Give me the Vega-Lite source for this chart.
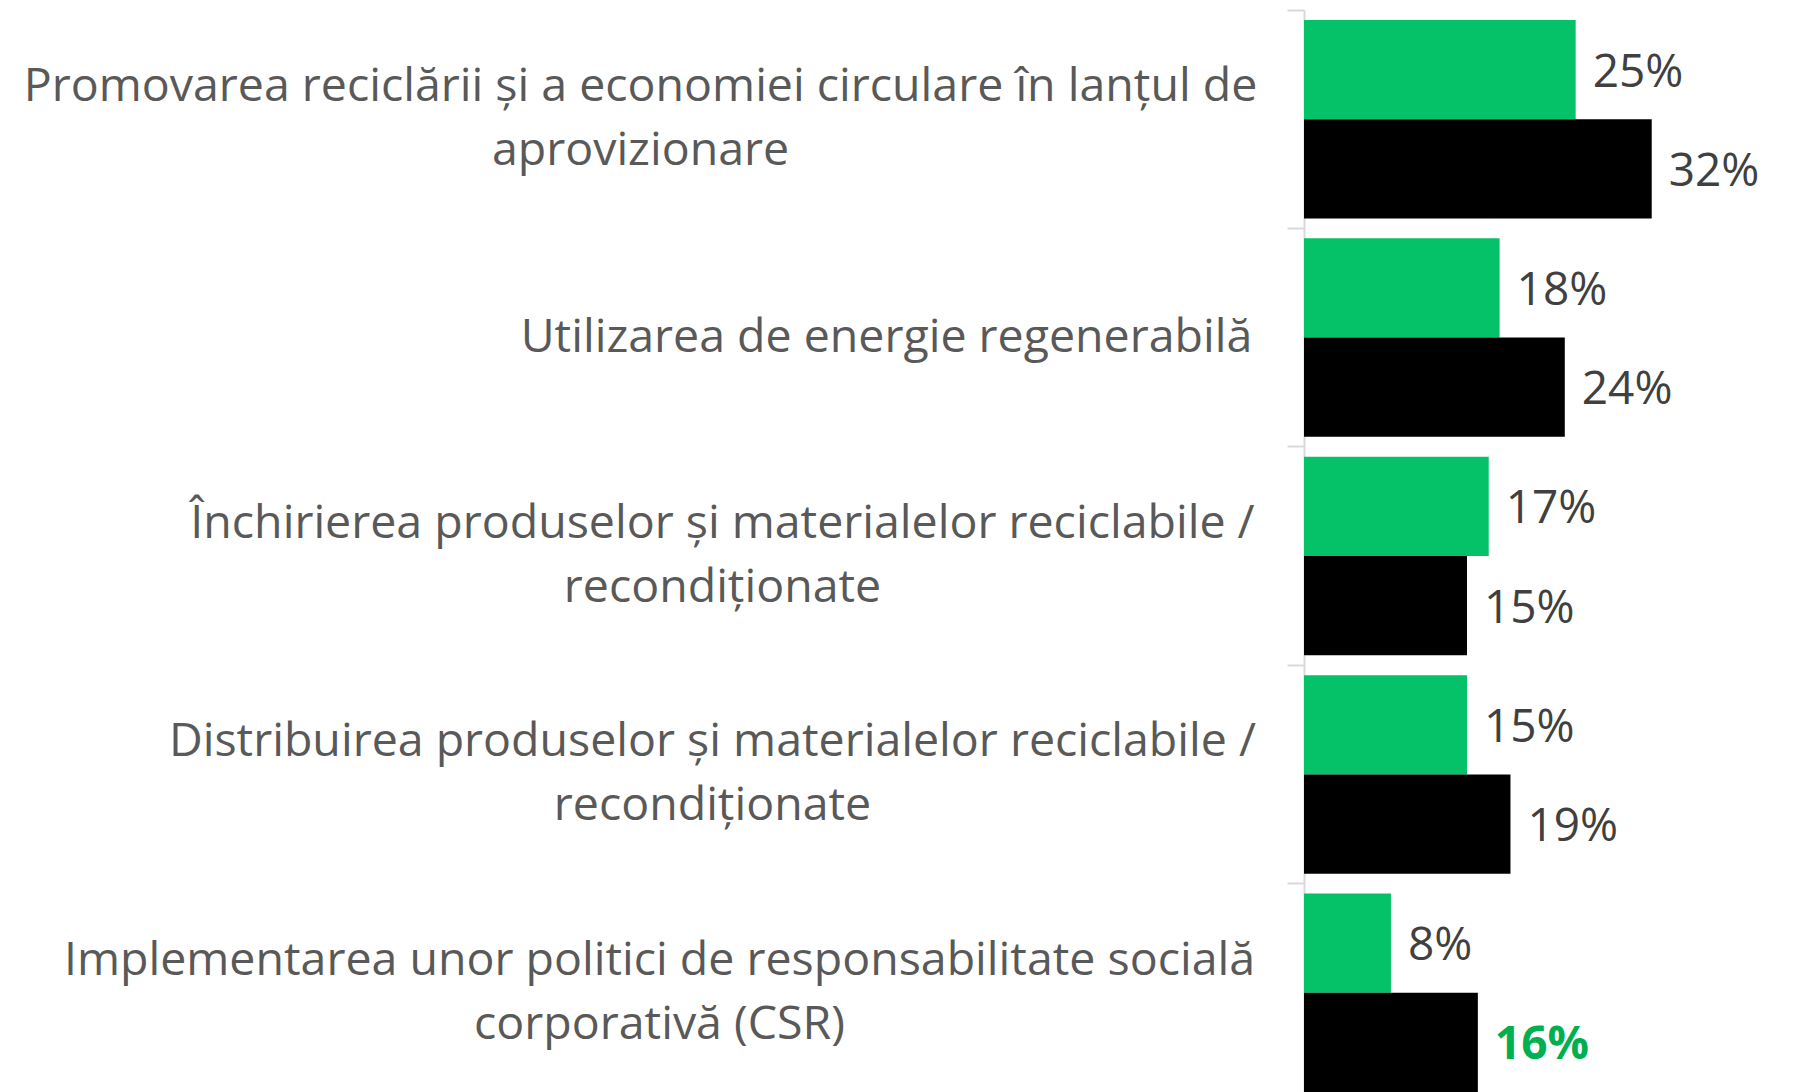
{
  "$schema": "https://vega.github.io/schema/vega-lite/v6.json",
  "autosize": {"type": "none"},
  "padding": {"left": 1304, "top": 10, "right": 0, "bottom": 0},
  "width": 489,
  "height": 1092,
  "background": "white",
  "config": {"view": {"stroke": null}},
  "data": {"values": [
    {"cat": "Promovarea reciclării și a economiei circulare în lanțul de\naprovizionare", "series": "Seria 1", "value": 25, "label": "25%"},
    {"cat": "Promovarea reciclării și a economiei circulare în lanțul de\naprovizionare", "series": "Seria 2", "value": 32, "label": "32%"},
    {"cat": "Utilizarea de energie regenerabilă", "series": "Seria 1", "value": 18, "label": "18%"},
    {"cat": "Utilizarea de energie regenerabilă", "series": "Seria 2", "value": 24, "label": "24%"},
    {"cat": "Închirierea produselor și materialelor reciclabile /\nrecondiționate", "series": "Seria 1", "value": 17, "label": "17%"},
    {"cat": "Închirierea produselor și materialelor reciclabile /\nrecondiționate", "series": "Seria 2", "value": 15, "label": "15%"},
    {"cat": "Distribuirea produselor și materialelor reciclabile /\nrecondiționate", "series": "Seria 1", "value": 15, "label": "15%"},
    {"cat": "Distribuirea produselor și materialelor reciclabile /\nrecondiționate", "series": "Seria 2", "value": 19, "label": "19%"},
    {"cat": "Implementarea unor politici de responsabilitate socială\ncorporativă (CSR)", "series": "Seria 1", "value": 8, "label": "8%"},
    {"cat": "Implementarea unor politici de responsabilitate socială\ncorporativă (CSR)", "series": "Seria 2", "value": 16, "label": "16%"}
  ]},
  "layer": [
    {
      "mark": {"type": "bar"},
      "encoding": {
        "y": {
          "field": "cat", "type": "nominal", "sort": null,
          "scale": {"paddingInner": 0, "paddingOuter": 0},
          "axis": {
            "title": null, "domain": false, "ticks": false, "orient": "left",
            "labelAlign": "center", "labelBaseline": "middle",
            "labelFont": "Open Sans", "labelFontSize": 46.5, "labelColor": "#595959",
            "labelLineHeight": 64, "labelLimit": 0,
            "labelExpr": "split(datum.value, '\\n')",
            "labelOffset": {"condition": {"test": "test(/\\n/, datum.value)", "value": -32}, "value": 0},
            "labelPadding": {
              "condition": [
                {"test": "test(/^Promovarea/, datum.value)", "value": 664},
                {"test": "test(/^Închirierea/, datum.value)", "value": 582},
                {"test": "test(/^Distribuirea/, datum.value)", "value": 592},
                {"test": "test(/^Implementarea/, datum.value)", "value": 645}
              ],
              "value": 418
            }
          }
        },
        "yOffset": {"field": "series", "type": "nominal", "sort": ["Seria 1", "Seria 2"], "scale": {"paddingInner": 0, "paddingOuter": 0.1}},
        "x": {"field": "value", "type": "quantitative", "scale": {"domain": [0, 45]}, "axis": null},
        "color": {"field": "series", "type": "nominal", "sort": ["Seria 1", "Seria 2"], "scale": {"range": ["#05C168", "#000000"]}, "legend": null}
      }
    },
    {
      "transform": [{"filter": "!(datum.series === 'Seria 2' && datum.value === 16)"}],
      "mark": {"type": "text", "align": "left", "baseline": "middle", "dx": 17, "dy": 3, "font": "Open Sans", "fontSize": 46, "color": "#404040"},
      "encoding": {
        "y": {
          "field": "cat", "type": "nominal", "sort": null,
          "scale": {"paddingInner": 0, "paddingOuter": 0},
          "axis": {
            "title": null, "orient": "left", "labels": false, "ticks": true, "tickSize": 17, "tickColor": "#D9D9D9", "tickWidth": 2,
            "domain": true, "domainColor": "#D9D9D9", "domainWidth": 2, "bandPosition": 0
          }
        },
        "yOffset": {"field": "series", "type": "nominal", "sort": ["Seria 1", "Seria 2"], "scale": {"paddingInner": 0, "paddingOuter": 0.1}},
        "x": {"field": "value", "type": "quantitative"},
        "text": {"field": "label"}
      }
    },
    {
      "transform": [{"filter": "datum.series === 'Seria 2' && datum.value === 16"}],
      "mark": {"type": "text", "align": "left", "baseline": "middle", "dx": 17, "dy": 3, "font": "Open Sans", "fontSize": 46, "fontWeight": "bold", "color": "#00B050"},
      "encoding": {
        "y": {"field": "cat", "type": "nominal", "sort": null, "axis": null},
        "yOffset": {"field": "series", "type": "nominal", "sort": ["Seria 1", "Seria 2"]},
        "x": {"field": "value", "type": "quantitative"},
        "text": {"field": "label"}
      }
    }
  ],
  "resolve": {"axis": {"y": "independent"}}
}
